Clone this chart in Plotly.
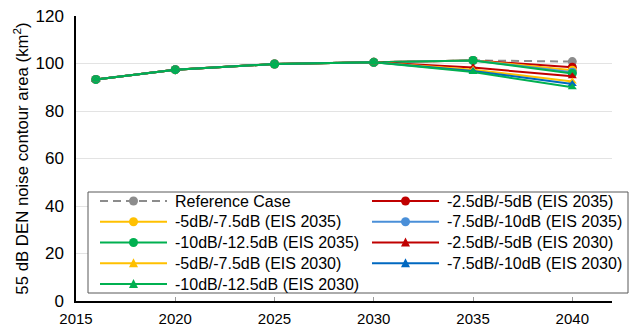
import plotly.graph_objects as go

years = [2016, 2020, 2025, 2030, 2035, 2040]

reference_case = [93.3, 97.4, 99.8, 100.5, 101.3, 100.8]

# EIS 2035 scenarios: identical to the reference until 2035
eis2035_m2_5 = [93.3, 97.4, 99.8, 100.5, 101.3, 98.4]
eis2035_m5 = [93.3, 97.4, 99.8, 100.5, 101.3, 97.2]
eis2035_m7_5 = [93.3, 97.4, 99.8, 100.5, 101.3, 96.3]
eis2035_m10 = [93.3, 97.4, 99.8, 100.5, 101.3, 95.8]

# EIS 2030 scenarios: identical to the reference until 2030
eis2030_m2_5 = [93.3, 97.4, 99.8, 100.5, 98.3, 94.6]
eis2030_m5 = [93.3, 97.4, 99.8, 100.5, 97.4, 92.4]
eis2030_m7_5 = [93.3, 97.4, 99.8, 100.5, 96.8, 91.4]
eis2030_m10 = [93.3, 97.4, 99.8, 100.5, 96.4, 90.0]

y_ticks = [0, 20, 40, 60, 80, 100, 120]
x_ticks = [2015, 2020, 2025, 2030, 2035, 2040]

series = [
    ("Reference Case", reference_case, "#8c8c8c", "circle", "8px,5px"),
    ("-2.5dB/-5dB (EIS 2035)", eis2035_m2_5, "#c00000", "circle", "solid"),
    ("-5dB/-7.5dB (EIS 2035)", eis2035_m5, "#ffc000", "circle", "solid"),
    ("-7.5dB/-10dB (EIS 2035)", eis2035_m7_5, "#4a8fd8", "circle", "solid"),
    ("-10dB/-12.5dB (EIS 2035)", eis2035_m10, "#00b050", "circle", "solid"),
    ("-2.5dB/-5dB (EIS 2030)", eis2030_m2_5, "#c00000", "triangle-up", "solid"),
    ("-5dB/-7.5dB (EIS 2030)", eis2030_m5, "#ffc000", "triangle-up", "solid"),
    ("-7.5dB/-10dB (EIS 2030)", eis2030_m7_5, "#0068c0", "triangle-up", "solid"),
    ("-10dB/-12.5dB (EIS 2030)", eis2030_m10, "#00b050", "triangle-up", "solid"),
]

W, H = 633, 326
M_L, M_R, M_T, M_B = 76, 21, 16, 25
PW, PH = W - M_L - M_R, H - M_T - M_B
font_family = "Liberation Sans, Arial, sans-serif"

fig = go.Figure()
for name, values, color, symbol, dash in series:
    fig.add_trace(go.Scatter(
        x=years, y=values, name=name, mode="lines+markers", showlegend=False,
        line=dict(color=color, width=2, dash=dash),
        marker=dict(color=color, symbol=symbol, size=9 if symbol == "circle" else 8),
    ))


# Two-column legend box laid out in pixel units of the page
def px_x(x):
    return (x - M_L) / PW


def px_y(y):
    return (H - M_B - y) / PH


shapes = [dict(type="rect", xref="paper", yref="paper",
               x0=px_x(88), x1=px_x(628), y0=px_y(293), y1=px_y(192),
               line=dict(color="#595959", width=1), fillcolor="white", layer="above")]
annotations = []
row_y0, row_step = 201, 20.75
col_x = [100, 372]
for i, (name, values, color, symbol, dash) in enumerate(series):
    ry = row_y0 + (i // 2) * row_step
    cx = col_x[i % 2]
    shapes.append(dict(type="line", xref="paper", yref="paper",
                       x0=px_x(cx), x1=px_x(cx + 67), y0=px_y(ry), y1=px_y(ry),
                       line=dict(color=color, width=2, dash=dash), layer="above"))
    mx = cx + 33.5
    if symbol == "circle":
        r = 4.5
        shapes.append(dict(type="circle", xref="paper", yref="paper",
                           x0=px_x(mx - r), x1=px_x(mx + r), y0=px_y(ry + r), y1=px_y(ry - r),
                           line=dict(width=0), fillcolor=color, layer="above"))
    else:
        a, b = 4.5, 4.0
        path = "M {} {} L {} {} L {} {} Z".format(
            px_x(mx - a), px_y(ry + b), px_x(mx + a), px_y(ry + b), px_x(mx), px_y(ry - b - 1))
        shapes.append(dict(type="path", xref="paper", yref="paper", path=path,
                           line=dict(width=0), fillcolor=color, layer="above"))
    annotations.append(dict(xref="paper", yref="paper", x=px_x(cx + 73), y=px_y(ry),
                            xanchor="left", yanchor="middle", showarrow=False,
                            text=name, font=dict(size=16, color="#000000", family=font_family)))

fig.update_layout(
    width=W, height=H,
    margin=dict(l=M_L, r=M_R, t=M_T, b=M_B),
    paper_bgcolor="white", plot_bgcolor="white",
    font=dict(family=font_family, size=15, color="#000000"),
    showlegend=False,
    shapes=shapes,
    annotations=annotations,
    xaxis=dict(
        range=[2015, 2042], tickvals=x_ticks, ticktext=[str(v) for v in x_ticks],
        showgrid=False, zeroline=False, automargin=False,
        showline=True, linecolor="black", linewidth=1.5,
        ticks="inside", ticklen=4, tickcolor="#9a9a9a",
        tickfont=dict(size=15), ticklabelstandoff=3,
    ),
    yaxis=dict(
        range=[0, 120], tickvals=y_ticks, automargin=False,
        showgrid=True, gridcolor="#e3e3e3", gridwidth=1, zeroline=False,
        showline=True, linecolor="black", linewidth=1.5,
        ticks="", tickfont=dict(size=17), ticklabelstandoff=7,
        title=dict(text="55 dB DEN noise contour area (km<sup>2</sup>)",
                   font=dict(size=16.8), standoff=3),
    ),
)

fig.write_html("out.html")
